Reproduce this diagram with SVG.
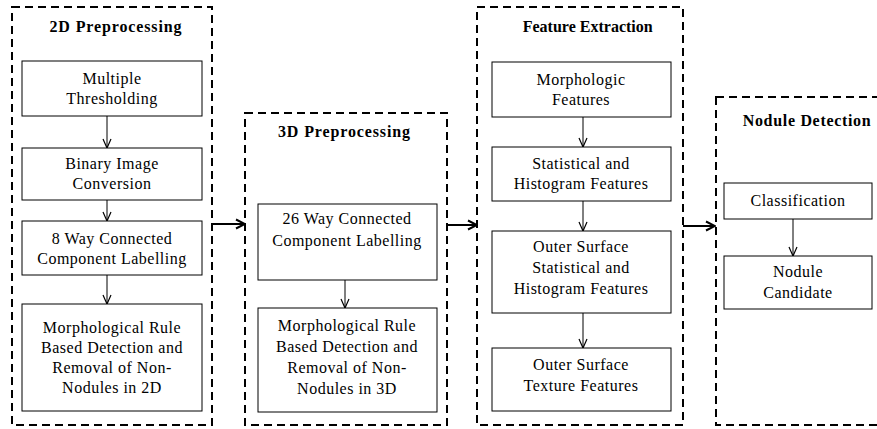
<svg xmlns="http://www.w3.org/2000/svg" width="877" height="429" viewBox="0 0 877 429">
<style>
.panel{fill:none;stroke:#000;stroke-width:2;stroke-dasharray:8 5}
.box{fill:#fff;stroke:#000;stroke-width:1}
.t{font-family:"Liberation Serif",Tinos,Times,serif;font-size:16px;letter-spacing:0.5px;text-anchor:middle;fill:#000}
.h{font-family:"Liberation Serif",Tinos,Times,serif;font-size:16px;font-weight:bold;text-anchor:middle;fill:#000}
.c{stroke:#000;stroke-width:1;fill:none}
.c2{stroke:#000;stroke-width:2;fill:none}
</style>
<defs>
<marker id="a" viewBox="0 0 10 10" refX="10" refY="5" markerWidth="10" markerHeight="10" markerUnits="userSpaceOnUse" orient="auto">
<path d="M1,1 L10,5 L1,9" fill="none" stroke="#000" stroke-width="1.2"/>
</marker>
<marker id="b" viewBox="0 0 12 12" refX="11" refY="6" markerWidth="12" markerHeight="12" markerUnits="userSpaceOnUse" orient="auto">
<path d="M2,1.5 L11,6 L2,10.5" fill="none" stroke="#000" stroke-width="2"/>
</marker>
</defs>
<g id="panel-2d">
<rect class="panel" x="12" y="7" width="200" height="418"/>
<text class="h" x="115.5" y="32" textLength="132" lengthAdjust="spacing">2D Preprocessing</text>
</g>
<g id="multiple-thresholding">
<rect class="box" x="22" y="61" width="180" height="55"/>
<text class="t" x="112" y="84">Multiple</text>
<text class="t" x="112" y="104">Thresholding</text>
</g>
<g id="binary-image-conversion">
<rect class="box" x="22" y="148" width="180" height="52"/>
<text class="t" x="112" y="169">Binary Image</text>
<text class="t" x="112" y="189">Conversion</text>
</g>
<g id="ccl-8">
<rect class="box" x="22" y="221" width="180" height="54"/>
<text class="t" x="112" y="244">8 Way Connected</text>
<text class="t" x="112" y="264">Component Labelling</text>
</g>
<g id="rule-2d">
<rect class="box" x="22" y="304" width="180" height="107"/>
<text class="t" x="112" y="333">Morphological Rule</text>
<text class="t" x="112" y="353">Based Detection and</text>
<text class="t" x="112" y="373">Removal of Non-</text>
<text class="t" x="112" y="393">Nodules in 2D</text>
</g>

<g id="panel-3d">
<rect class="panel" x="245" y="113" width="202" height="312"/>
<text class="h" x="344" y="137" textLength="132" lengthAdjust="spacing">3D Preprocessing</text>
</g>
<g id="ccl-26">
<rect class="box" x="258" y="204" width="179" height="76"/>
<text class="t" x="347" y="224">26 Way Connected</text>
<text class="t" x="347" y="246">Component Labelling</text>
</g>
<g id="rule-3d">
<rect class="box" x="258" y="308" width="179" height="104"/>
<text class="t" x="347" y="331">Morphological Rule</text>
<text class="t" x="347" y="352">Based Detection and</text>
<text class="t" x="347" y="373">Removal of Non-</text>
<text class="t" x="347" y="394">Nodules in 3D</text>
</g>

<g id="panel-fe">
<rect class="panel" x="477" y="7" width="206" height="418"/>
<text class="h" x="587.7" y="32" textLength="130" lengthAdjust="spacing">Feature Extraction</text>
</g>
<g id="morphologic-features">
<rect class="box" x="492" y="62" width="179" height="55"/>
<text class="t" x="581" y="85">Morphologic</text>
<text class="t" x="581" y="105">Features</text>
</g>
<g id="stat-hist">
<rect class="box" x="492" y="147" width="179" height="54"/>
<text class="t" x="581" y="169">Statistical and</text>
<text class="t" x="581" y="189">Histogram Features</text>
</g>
<g id="outer-stat-hist">
<rect class="box" x="492" y="231" width="179" height="82"/>
<text class="t" x="581" y="252">Outer Surface</text>
<text class="t" x="581" y="273">Statistical and</text>
<text class="t" x="581" y="294">Histogram Features</text>
</g>
<g id="outer-texture">
<rect class="box" x="492" y="348" width="179" height="63"/>
<text class="t" x="581" y="370">Outer Surface</text>
<text class="t" x="581" y="391">Texture Features</text>
</g>

<g id="panel-nd">
<rect class="panel" x="716" y="97" width="170" height="328"/>
<text class="h" x="806.7" y="126" textLength="128" lengthAdjust="spacing">Nodule Detection</text>
</g>
<g id="classification">
<rect class="box" x="724" y="183" width="148" height="36"/>
<text class="t" x="798" y="206">Classification</text>
</g>
<g id="nodule-candidate">
<rect class="box" x="724" y="256" width="148" height="53"/>
<text class="t" x="798" y="277">Nodule</text>
<text class="t" x="798" y="298">Candidate</text>
</g>

<g id="connectors">
<line class="c" x1="107" y1="116" x2="107" y2="148" marker-end="url(#a)"/>
<line class="c" x1="107" y1="200" x2="107" y2="221" marker-end="url(#a)"/>
<line class="c" x1="107" y1="275" x2="107" y2="304" marker-end="url(#a)"/>
<line class="c" x1="345" y1="280" x2="345" y2="308" marker-end="url(#a)"/>
<line class="c" x1="583" y1="117" x2="583" y2="147" marker-end="url(#a)"/>
<line class="c" x1="583" y1="201" x2="583" y2="231" marker-end="url(#a)"/>
<line class="c" x1="583" y1="313" x2="583" y2="348" marker-end="url(#a)"/>
<line class="c" x1="793" y1="219" x2="793" y2="256" marker-end="url(#a)"/>
<line class="c2" x1="213" y1="224" x2="245" y2="224" marker-end="url(#b)"/>
<line class="c2" x1="447" y1="225" x2="477" y2="225" marker-end="url(#b)"/>
<line class="c2" x1="683" y1="226" x2="715" y2="226" marker-end="url(#b)"/>
</g>
</svg>
